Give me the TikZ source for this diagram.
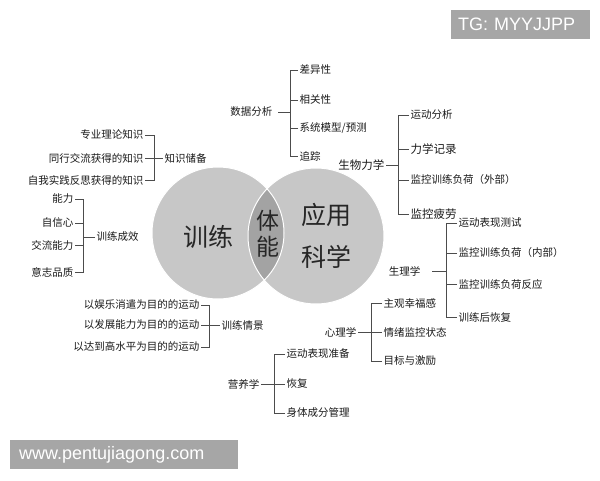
\documentclass[tikz,border=0pt]{standalone}
\usepackage{fontspec}
\newfontfamily\cjk{Noto Sans CJK SC}
\newfontfamily\wmfont{Liberation Sans}
\usepackage{tikz}
\tikzset{lbl/.style={font=\cjk\fontsize{10.5}{12}\selectfont, text=black!90, inner sep=1.5pt},
  lblbig/.style={lbl, font=\cjk\fontsize{11.5}{13}\selectfont},
  centre/.style={font=\cjk\fontsize{25}{30}\selectfont, text=black!85, inner sep=0pt, align=center},
  br/.style={draw=black!70, line width=0.6pt},
  mark box/.style={fill=black!35, text=white, font=\wmfont\fontsize{18}{20}\selectfont, inner sep=0pt, anchor=west}}

\begin{document}
\begin{tikzpicture}[x=1pt, y=-1pt]
      \useasboundingbox (0,0) rectangle (600,480);
      % circles
      \fill [black!22] (218,233) circle (66);
      \fill [black!22] (316,236) circle (68);
      \begin{scope}
        \clip (218,233) circle (66);
        \fill [black!36] (316,236) circle (68);
      \end{scope}
      \draw [white, line width=1pt] (218,233) circle (66) (316,236) circle (68);
      \node [centre] (xunlian) at (208,237) {训练};
      \node [centre, font=\cjk\fontsize{23}{26}\selectfont] (tineng) at (268,234) {体\\能};
      \node [centre, font=\cjk\fontsize{25}{42}\selectfont] (yingyong) at (326,236) {应用\\科学};
      % data analysis
      \def\bx{290}
      \node [lbl, anchor=east] (sj) at (274,112) {数据分析};
      \node [lbl, anchor=west] (sj1) at (298,70) {差异性};
      \node [lbl, anchor=west] (sj2) at (298,100) {相关性};
      \node [lbl, anchor=west] (sj3) at (298,128) {系统模型/预测};
      \node [lbl, anchor=west] (sj4) at (298,156) {追踪};
      \draw [br] ([xshift=4pt]sj.east) -- (\bx,112);
      \draw [br] (sj1.west) -- (\bx,70) -- (\bx,156) -- (sj4.west);
      \foreach \x in {sj2,sj3} { \draw [br] (\x.west) -- (\x.west -| {(\bx,0)}); }
      % biomechanics
      \def\bx{398}
      \node [lblbig, anchor=east] (sw) at (386,165) {生物力学};
      \node [lbl, anchor=west] (sw1) at (409,115) {运动分析};
      \node [lblbig, anchor=west] (sw2) at (409,149) {力学记录};
      \node [lbl, anchor=west] (sw3) at (409,180) {监控训练负荷（外部）};
      \node [lblbig, anchor=west] (sw4) at (409,214) {监控疲劳};
      \draw [br] (sw.east) -- (\bx,165);
      \draw [br] (sw1.west) -- (\bx,115) -- (\bx,214) -- (sw4.west);
      \foreach \x in {sw2,sw3} { \draw [br] (\x.west) -- (\x.west -| {(\bx,0)}); }
      % physiology
      \def\bx{446}
      \node [lbl, anchor=east] (sl) at (422,271) {生理学};
      \node [lbl, anchor=west] (sl1) at (457,223) {运动表现测试};
      \node [lbl, anchor=west] (sl2) at (457,253) {监控训练负荷（内部）};
      \node [lbl, anchor=west] (sl3) at (457,284) {监控训练负荷反应};
      \node [lbl, anchor=west] (sl4) at (457,317) {训练后恢复};
      \draw [br] ([xshift=10pt]sl.east) -- (\bx,271);
      \draw [br] (sl1.west) -- (\bx,223) -- (\bx,317) -- (sl4.west);
      \foreach \x in {sl2,sl3} { \draw [br] (\x.west) -- (\x.west -| {(\bx,0)}); }
      % psychology
      \def\bx{371}
      \node [lbl, anchor=east] (xl) at (358,332) {心理学};
      \node [lbl, anchor=west] (xl1) at (382,303) {主观幸福感};
      \node [lbl, anchor=west] (xl2) at (382,332) {情绪监控状态};
      \node [lbl, anchor=west] (xl3) at (382,361) {目标与激励};
      \draw [br] (xl.east) -- (xl2.west);
      \draw [br] (xl1.west) -- (\bx,303) -- (\bx,361) -- (xl3.west);
      % nutrition
      \def\bx{274}
      \node [lbl, anchor=east] (yy) at (261,384) {营养学};
      \node [lbl, anchor=west] (yy1) at (285,354) {运动表现准备};
      \node [lbl, anchor=west] (yy2) at (285,384) {恢复};
      \node [lbl, anchor=west] (yy3) at (285,413) {身体成分管理};
      \draw [br] (yy.east) -- (yy2.west);
      \draw [br] (yy1.west) -- (\bx,354) -- (\bx,413) -- (yy3.west);
      % knowledge
      \def\bx{154}
      \node [lbl, anchor=west] (zs) at (163,158) {知识储备};
      \node [lbl, anchor=east] (zs1) at (145,135) {专业理论知识};
      \node [lbl, anchor=east] (zs2) at (145,158) {同行交流获得的知识};
      \node [lbl, anchor=east] (zs3) at (145,180) {自我实践反思获得的知识};
      \draw [br] (zs2.east) -- (zs.west);
      \draw [br] (zs1.east) -- (\bx,135) -- (\bx,180) -- (zs3.east);
      % training effect
      \def\bx{83}
      \node [lbl, anchor=west] (cx) at (95,237) {训练成效};
      \node [lbl, anchor=east] (cx1) at (75,199) {能力};
      \node [lbl, anchor=east] (cx2) at (75,223) {自信心};
      \node [lbl, anchor=east] (cx3) at (75,245) {交流能力};
      \node [lbl, anchor=east] (cx4) at (75,272) {意志品质};
      \draw [br] (cx.west) -- (\bx,237);
      \draw [br] (cx1.east) -- (\bx,199) -- (\bx,272) -- (cx4.east);
      \foreach \x in {cx2,cx3} { \draw [br] (\x.east) -- (\x.east -| {(\bx,0)}); }
      % training scene
      \def\bx{209}
      \node [lbl, anchor=west] (qj) at (220,325) {训练情景};
      \node [lbl, anchor=east] (qj1) at (201,305) {以娱乐消遣为目的的运动};
      \node [lbl, anchor=east] (qj2) at (201,325) {以发展能力为目的的运动};
      \node [lbl, anchor=east] (qj3) at (201,347) {以达到高水平为目的的运动};
      \draw [br] (qj2.east) -- (qj.west);
      \draw [br] (qj1.east) -- (\bx,305) -- (\bx,347) -- (qj3.east);
      % marks
      \node [mark box, minimum width=139pt, minimum height=29pt, text width=133pt, align=left] (tg) at (451,24.5) {\hspace*{4pt}TG: MYYJJPP};
      \node [mark box, minimum width=228pt, minimum height=29pt, text width=222pt, align=left] (www) at (10,454.5) {\hspace*{6pt}www.pentujiagong.com};
    \end{tikzpicture}
\end{document}
